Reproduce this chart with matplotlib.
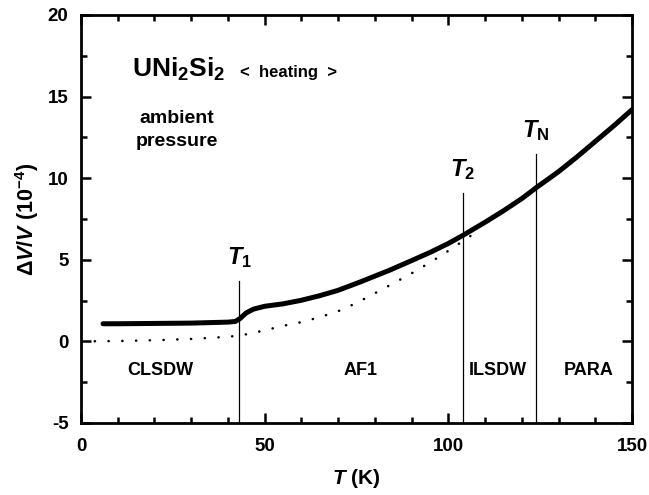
import matplotlib
matplotlib.use("Agg")
import matplotlib.pyplot as plt
from matplotlib.ticker import MultipleLocator

plt.rcParams['font.family'] = ['Liberation Sans', 'DejaVu Sans']
plt.rcParams['font.weight'] = 'bold'
plt.rcParams['axes.unicode_minus'] = False
plt.rcParams['mathtext.fontset'] = 'custom'
plt.rcParams['mathtext.rm'] = 'Liberation Sans:bold'
plt.rcParams['mathtext.bf'] = 'Liberation Sans:bold'
plt.rcParams['mathtext.it'] = 'Liberation Sans:bold:italic'

# measured curve (heating)
t_meas = [6, 10, 20, 30, 40, 42, 43.3, 45, 47, 50, 55, 60, 65, 70, 76, 80, 84,
          90, 95, 100, 104, 110, 115, 120, 124, 130, 135, 140, 145, 150]
dv_meas = [1.08, 1.08, 1.1, 1.12, 1.18, 1.22, 1.4, 1.75, 1.98, 2.15, 2.3, 2.52, 2.8,
           3.13, 3.64, 4.0, 4.36, 4.95, 5.45, 6.0, 6.5, 7.3, 8.0, 8.75, 9.43,
           10.4, 11.3, 12.25, 13.2, 14.2]

# background (dotted)
t_bg = [0, 10, 20, 30, 40, 43, 46, 50, 55, 60, 65, 70, 75, 80, 85, 90, 95, 100, 104, 108]
dv_bg = [0, 0.02, 0.07, 0.15, 0.28, 0.36, 0.47, 0.68, 0.95, 1.18, 1.48, 1.85, 2.35,
         2.95, 3.55, 4.17, 4.83, 5.55, 6.15, 6.75]

# transitions
trans_t = [43.1, 104, 123.8]
trans_top = [3.7, 9.1, 11.5]
trans_lbl = [r'$T_1$', r'$T_2$', r'$T_\mathrm{N}$']

phase_names = ['CLSDW', 'AF1', 'ILSDW', 'PARA']
phase_t = [21.5, 76.2, 113.4, 138.3]

fig = plt.figure(figsize=(6.49, 4.95), dpi=100)
ax = fig.add_axes([0.1248, 0.1455, 0.849, 0.8242])

ax.plot(t_bg, dv_bg, color='black', lw=1.8, linestyle=(0, (0.1, 5.4)),
        dash_capstyle='round')
ax.plot(t_meas, dv_meas, color='black', lw=3.6, solid_capstyle='round')

for t, top, lbl in zip(trans_t, trans_top, trans_lbl):
    ax.plot([t, t], [-5, top], color='black', lw=0.9)
    ax.text(t, top + 0.65, lbl, ha='center', va='bottom', fontsize=17)

for name, t in zip(phase_names, phase_t):
    ax.text(t, -1.78, name, ha='center', va='center', fontsize=13, fontweight='bold')

ax.text(13.9, 16.2, r'$\mathrm{UNi_2Si_2}$', fontsize=19, ha='left', va='baseline')
ax.text(43.3, 16.2, '<  heating  >', fontsize=12, ha='left', va='baseline',
        fontweight='bold')
ax.text(26, 13.4, 'ambient', fontsize=14, ha='center', va='baseline', fontweight='bold')
ax.text(26, 11.95, 'pressure', fontsize=14, ha='center', va='baseline', fontweight='bold')

ax.set_xlim(0, 150)
ax.set_ylim(-5, 20)
ax.xaxis.set_major_locator(MultipleLocator(50))
ax.xaxis.set_minor_locator(MultipleLocator(10))
ax.yaxis.set_major_locator(MultipleLocator(5))
ax.yaxis.set_minor_locator(MultipleLocator(2.5))
ax.tick_params(which='both', direction='in', top=True, right=True, width=1.8)
ax.tick_params(which='major', length=7, labelsize=13.5)
ax.tick_params(axis='x', which='major', pad=11)
ax.tick_params(axis='y', which='major', pad=9)
ax.tick_params(which='minor', length=4)
for lab in ax.get_xticklabels() + ax.get_yticklabels():
    lab.set_fontweight('bold')
for sp in ax.spines.values():
    sp.set_linewidth(2)

ax.set_xlabel(r'$T$ (K)', fontsize=15, fontweight='bold')
ax.set_ylabel(r'$\Delta V/V$ (10$^{-4}$)', fontsize=15.5, fontweight='bold')
ax.xaxis.set_label_coords(0.5, -0.108)
ax.yaxis.set_label_coords(-0.072, 0.5)

fig.savefig('out.png', dpi=100)
